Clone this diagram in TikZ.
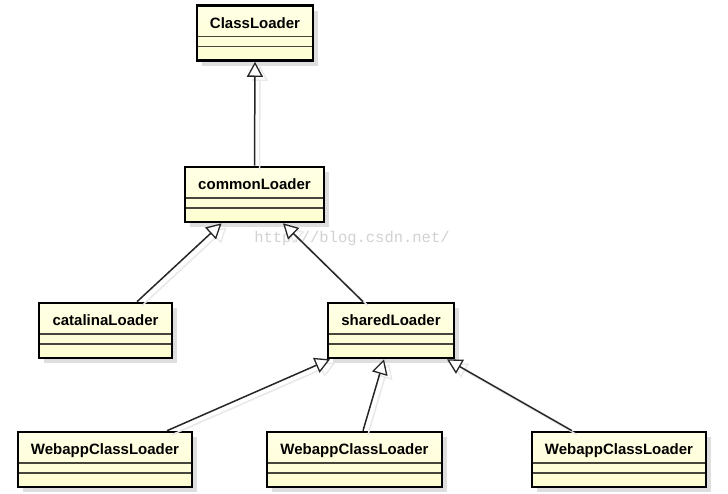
\documentclass[tikz,border=0pt]{standalone}
\usepackage{fontspec}
\setmainfont{Liberation Sans}
\newfontfamily\wmfont{Liberation Mono}
\usetikzlibrary{arrows.meta,shadows}
\definecolor{umlfill}{RGB}{254,254,210}
\definecolor{umltop}{RGB}{255,255,230}
\definecolor{shadowgray}{RGB}{222,222,222}
\definecolor{lineshadow}{RGB}{232,232,232}
\definecolor{divgray}{RGB}{70,70,60}
\tikzset{
  umlbox/.style={draw=black, line width=2.6pt, rectangle,
    top color=umltop, bottom color=umlfill,
    minimum height=55pt, inner sep=0pt,
    font=\bfseries\fontsize{15}{17}\selectfont,
    text height=10.5pt, text depth=20.5pt,
    drop shadow={shadow xshift=5pt, shadow yshift=-5pt, fill=shadowgray, opacity=1},
    path picture={
      \draw[divgray, line width=1.2pt]
        ([yshift=-31pt]path picture bounding box.north west) --
        ([yshift=-31pt]path picture bounding box.north east);
      \draw[divgray, line width=1.2pt]
        ([yshift=-41pt]path picture bounding box.north west) --
        ([yshift=-41pt]path picture bounding box.north east);
    }},
  inherit/.style={line width=1.5pt, black!85,
    -{Triangle[fill=white, length=15pt, width=16pt, line width=1.3pt]}},
  inheritshadow/.style={line width=1.5pt, lineshadow,
    -{Triangle[fill=white, length=15pt, width=16pt, line width=1.3pt]},
    transform canvas={shift={(5pt,-4pt)}}},
}
\begin{document}
\begin{tikzpicture}[x=1pt,y=-1pt]
\useasboundingbox[fill=white] (0,0) rectangle (728,493);

\node[umlbox, minimum width=116pt] (cl) at (255,33) {ClassLoader};
\node[umlbox, minimum width=139pt] (common) at (254.5,194.5) {commonLoader};
\node[umlbox, minimum width=133pt] (catalina) at (105.5,330.5) {catalinaLoader};
\node[umlbox, minimum width=126pt] (shared) at (391,330.5) {sharedLoader};
\node[umlbox, minimum width=174pt] (web1) at (105,459.5) {WebappClassLoader};
\node[umlbox, minimum width=175pt] (web2) at (354.5,459.5) {WebappClassLoader};
\node[umlbox, minimum width=174pt] (web3) at (619,459.5) {WebappClassLoader};

\node[font=\wmfont\fontsize{15.5}{17}\selectfont, text=gray!35] (wm) at (352,238) {http://blog.csdn.net/};

% connector shadows
\draw[inheritshadow] (common.north) -- (cl.south);
\draw[inheritshadow] ([xshift=31.5pt]catalina.north) -- ([xshift=-33pt]common.south);
\draw[inheritshadow] ([xshift=-28pt]shared.north) -- ([xshift=28.5pt]common.south);
\draw[inheritshadow] ([xshift=62pt]web1.north) -- ([xshift=-61pt]shared.south);
\draw[inheritshadow] ([xshift=8.5pt]web2.north) -- ([xshift=-7pt]shared.south);
\draw[inheritshadow] ([xshift=-47pt]web3.north) -- ([xshift=56pt]shared.south);

% connectors
\draw[inherit] (common.north) -- (cl.south);
\draw[inherit] ([xshift=31.5pt]catalina.north) -- ([xshift=-33pt]common.south);
\draw[inherit] ([xshift=-28pt]shared.north) -- ([xshift=28.5pt]common.south);
\draw[inherit] ([xshift=62pt]web1.north) -- ([xshift=-61pt]shared.south);
\draw[inherit] ([xshift=8.5pt]web2.north) -- ([xshift=-7pt]shared.south);
\draw[inherit] ([xshift=-47pt]web3.north) -- ([xshift=56pt]shared.south);
\end{tikzpicture}
\end{document}
